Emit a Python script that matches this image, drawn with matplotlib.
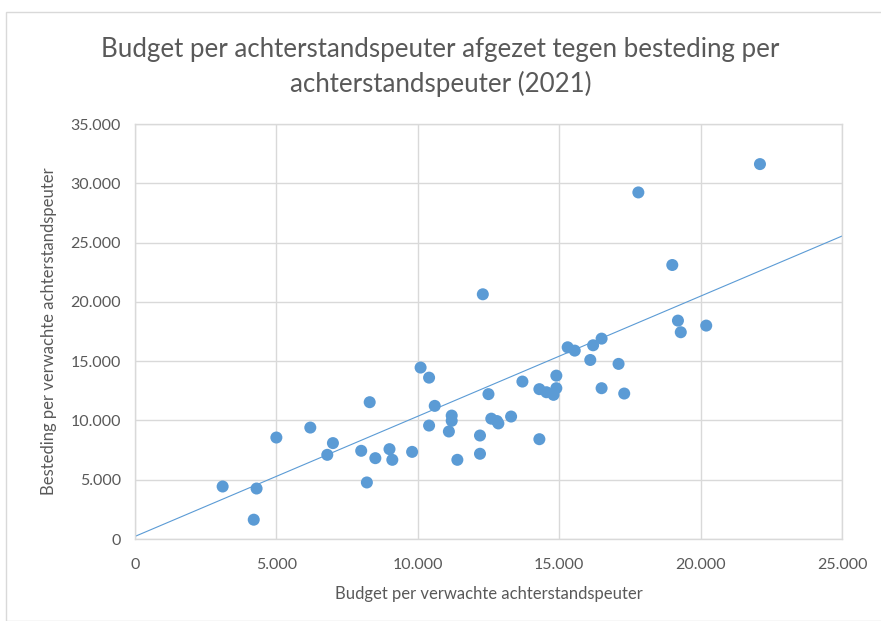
import matplotlib.pyplot as plt
import numpy as np
from matplotlib.patches import Rectangle
from matplotlib.ticker import FuncFormatter

# budget per verwachte achterstandspeuter (x) vs besteding (y)
budget = [
    3100, 4300, 4200, 5000, 6200, 7000, 6800, 8000, 8300, 8200,
    8500, 9000, 9100, 9800, 10100, 10400, 10600, 10400, 11200, 11200,
    11100, 11400, 12200, 12200, 12300, 12500, 12600, 12800, 12850, 13300,
    14300, 13700, 14300, 14550, 14800, 14900, 14900, 15300, 15550, 16100,
    16200, 16500, 16500, 17100, 17300, 17800, 19000, 19200, 19300, 20200,
    22100,
]
besteding = [
    4430, 4260, 1630, 8560, 9400, 8090, 7100, 7440, 11540, 4770,
    6820, 7580, 6680, 7350, 14460, 13610, 11230, 9570, 10410, 9970,
    9070, 6680, 8730, 7190, 20640, 12220, 10150, 9950, 9750, 10330,
    8420, 13280, 12640, 12380, 12160, 12720, 13780, 16170, 15890, 15100,
    16340, 16900, 12720, 14770, 12270, 29230, 23110, 18420, 17440, 18000,
    31620,
]

# trendline: value at x = 0 and at x = 25.000
trend_x = [0, 25000]
trend_y = [220, 25550]

x_ticks = [0, 5000, 10000, 15000, 20000, 25000]
y_ticks = [0, 5000, 10000, 15000, 20000, 25000, 30000, 35000]

title = "Budget per achterstandspeuter afgezet tegen besteding per\nachterstandspeuter (2021)"
x_label = "Budget per verwachte achterstandspeuter"
y_label = "Besteding per verwachte achterstandspeuter"

BLUE = "#5B9BD5"
TEXT = "#595959"
GRID = "#D9D9D9"

plt.rcParams["font.family"] = ["Lato", "DejaVu Sans"]


def dot_thousands(v, _pos):
    return f"{v:,.0f}".replace(",", ".")


fig = plt.figure(figsize=(8.81, 6.21), dpi=100)
fig.patches.append(Rectangle((6 / 881, 0), 1.0, 1 - 12 / 621, transform=fig.transFigure,
                             fill=False, edgecolor=GRID, linewidth=1.0))
ax = fig.add_axes([0.1532, 0.1320, 0.8025, 0.6683])

ax.scatter(budget, besteding, s=75, color=BLUE, edgecolors="none", zorder=3)
ax.plot(trend_x, trend_y, color=BLUE, linewidth=0.8, zorder=2)

ax.set_xlim(0, 25000)
ax.set_ylim(0, 35000)
ax.set_xticks(x_ticks)
ax.set_yticks(y_ticks)
ax.xaxis.set_major_formatter(FuncFormatter(dot_thousands))
ax.yaxis.set_major_formatter(FuncFormatter(dot_thousands))
ax.tick_params(axis="x", pad=14)
ax.tick_params(axis="y", pad=10)
ax.tick_params(length=0, labelsize=11.5, labelcolor=TEXT)
ax.grid(True, color=GRID, linewidth=1.0, zorder=0)
for spine in ax.spines.values():
    spine.set_color(GRID)
    spine.set_linewidth(1.0)

ax.set_xlabel(x_label, fontsize=12, color=TEXT, labelpad=10)
ax.set_ylabel(y_label, fontsize=12, color=TEXT, labelpad=10)
fig.text(0.5, 0.892, title, ha="center", va="center", fontsize=18.6, color=TEXT,
         linespacing=1.42)

fig.savefig("out.png", dpi=100)
